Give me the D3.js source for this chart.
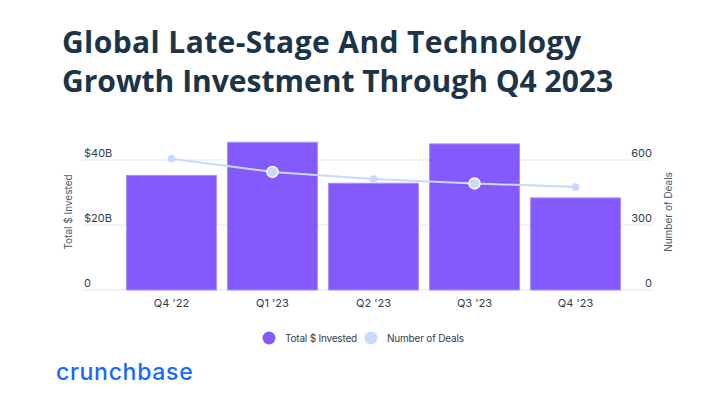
<!DOCTYPE html>
<html><head><meta charset="utf-8">
<script src="https://cdn.jsdelivr.net/npm/d3@7"></script>
<style>
body{margin:0;background:#fff;}
svg{display:block;font-family:"Inter","Lato",sans-serif;}
</style></head>
<body>
<svg id="c" width="707" height="397"></svg>
<script>
const categories = ["Q4 '22","Q1 '23","Q2 '23","Q3 '23","Q4 '23"];
const invested = [35.4, 45.6, 33.0, 45.1, 28.5];       // $B
const deals = [606, 545, 512, 492, 475];
const leftTicks = [0, 20, 40];
const leftTickLabels = ["0", "$20B", "$40B"];
const rightTicks = [0, 300, 600];
const highlighted = [false, true, false, true, false];

const svg = d3.select("#c");
const plot = {left: 83, right: 652, top: 140, bottom: 290};

// Title
const title = svg.append("text").attr("fill", "#1b3447")
  .attr("font-family", "'Open Sans', sans-serif").attr("font-weight", 700).attr("font-size", 30);
title.append("tspan").attr("x", 62).attr("y", 53).attr("letter-spacing", 0.4).text("Global Late-Stage And Technology");
title.append("tspan").attr("x", 62).attr("y", 92).attr("letter-spacing", 0).text("Growth Investment Through Q4 2023");

const x = d3.scaleBand().domain(categories).range([126, 621]).paddingInner(0.1).paddingOuter(0);
const yL = d3.scaleLinear().domain([0, 40]).range([plot.bottom, 160]);
const yR = d3.scaleLinear().domain([0, 600]).range([plot.bottom, 160]);

// gridlines
svg.append("g").selectAll("line").data(leftTicks).join("line")
  .attr("x1", plot.left).attr("x2", plot.right)
  .attr("y1", d => yL(d)).attr("y2", d => yL(d))
  .attr("stroke", "#e4e7eb").attr("stroke-width", 1);

// left tick labels
svg.append("g").selectAll("text").data(leftTicks).join("text")
  .attr("x", 84).attr("y", d => yL(d) - 3.5)
  .attr("font-size", 11).attr("fill", "#2f3d4c")
  .text((d, i) => leftTickLabels[i]);

// right tick labels
svg.append("g").selectAll("text").data(rightTicks).join("text")
  .attr("x", 652).attr("y", d => yR(d) - 3.5).attr("text-anchor", "end")
  .attr("font-size", 11).attr("fill", "#2f3d4c")
  .text(d => d3.format("d")(d));

// axis titles
svg.append("text").attr("transform", "translate(72,212) rotate(-90)")
  .attr("text-anchor", "middle").attr("font-size", 10).attr("fill", "#4a5866")
  .text("Total $ Invested");
svg.append("text").attr("transform", "translate(672,212) rotate(-90)")
  .attr("text-anchor", "middle").attr("font-size", 10).attr("fill", "#4a5866")
  .text("Number of Deals");

// bars
svg.append("g").selectAll("rect").data(invested).join("rect")
  .attr("x", (d, i) => x(categories[i]) + 0.5)
  .attr("width", x.bandwidth() - 1)
  .attr("y", d => yL(d) + 0.5)
  .attr("height", d => plot.bottom - yL(d) - 0.5)
  .attr("fill", "#855afc").attr("stroke", "#a88cff").attr("stroke-width", 1);

// x labels
svg.append("g").selectAll("text").data(categories).join("text")
  .attr("x", d => x(d) + x.bandwidth() / 2).attr("y", 307)
  .attr("text-anchor", "middle").attr("font-size", 11).attr("fill", "#2f3d4c")
  .text(d => d);

// line
const line = d3.line().x((d, i) => x(categories[i]) + x.bandwidth() / 2).y(d => yR(d));
svg.append("path").datum(deals).attr("d", line)
  .attr("fill", "none").attr("stroke", "#c8dafc").attr("stroke-width", 2);
svg.append("g").selectAll("circle").data(deals).join("circle")
  .attr("cx", (d, i) => x(categories[i]) + x.bandwidth() / 2)
  .attr("cy", d => yR(d))
  .attr("r", (d, i) => highlighted[i] ? 5.5 : 3.8)
  .attr("fill", "#c8dafc")
  .attr("stroke", (d, i) => highlighted[i] ? "#fff" : "none")
  .attr("stroke-width", 1.5);

// legend
const legend = [{label: "Total $ Invested", color: "#855afc", cx: 269, tx: 285},
                {label: "Number of Deals", color: "#c8dafc", cx: 371, tx: 387}];
const lg = svg.append("g").selectAll("g").data(legend).join("g");
lg.append("circle").attr("cx", d => d.cx).attr("cy", 338).attr("r", 6.5).attr("fill", d => d.color);
lg.append("text").attr("x", d => d.tx).attr("y", 341.5).attr("font-size", 10)
  .attr("fill", "#2f3d4c").attr("letter-spacing", -0.2).text(d => d.label);

// logo
svg.append("text").attr("x", 56).attr("y", 380).attr("font-size", 23)
  .attr("font-family", "Inter, sans-serif").attr("font-weight", 500).attr("letter-spacing", 0.7)
  .attr("fill", "#146aff").text("crunchbase");
</script>
</body></html>
